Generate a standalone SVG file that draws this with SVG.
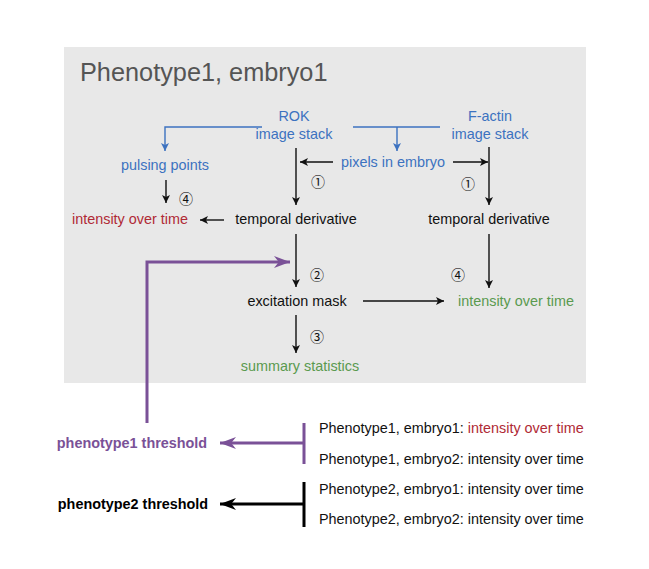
<svg xmlns="http://www.w3.org/2000/svg" width="649" height="569" viewBox="0 0 649 569">
<style>
text{font-family:"Liberation Sans",Arial,sans-serif;font-size:14.4px}
.k{fill:#111}
.b{fill:#3c72c0}
.r{fill:#b02a35}
.g{fill:#5a9a4f}
.c{font-family:"Noto Sans CJK SC","DejaVu Sans",sans-serif;font-size:14px;fill:#111}
.t{font-size:25.3px;fill:#555}
.pb{font-weight:bold;fill:#7a5197}
.kb{font-weight:bold;fill:#000}
.lk{stroke:#111;stroke-width:1.4;fill:none}
.lb{stroke:#3c72c0;stroke-width:1.4;fill:none}
.lp{stroke:#7a5197;stroke-width:3;fill:none}
.lk3{stroke:#000;stroke-width:3;fill:none}
</style>
<defs>
<marker id="ak" viewBox="0 0 10 10" refX="10" refY="5" markerWidth="8" markerHeight="8" markerUnits="userSpaceOnUse" orient="auto"><path d="M0,0 L10,5 L0,10 L2.5,5 z" fill="#111"/></marker>
<marker id="ab" viewBox="0 0 10 10" refX="10" refY="5" markerWidth="8" markerHeight="8" markerUnits="userSpaceOnUse" orient="auto"><path d="M0,0 L10,5 L0,10 L2.5,5 z" fill="#3c72c0"/></marker>
<marker id="ap" viewBox="0 0 10 10" refX="10" refY="5" markerWidth="16" markerHeight="12" markerUnits="userSpaceOnUse" orient="auto" preserveAspectRatio="none"><path d="M0,0 L10,5 L0,10 L3,5 z" fill="#7a5197"/></marker>
<marker id="a3" viewBox="0 0 10 10" refX="10" refY="5" markerWidth="16" markerHeight="12" markerUnits="userSpaceOnUse" orient="auto" preserveAspectRatio="none"><path d="M0,0 L10,5 L0,10 L3,5 z" fill="#000"/></marker>
</defs>
<rect width="649" height="569" fill="#fff"/>
<rect id="panel" x="64" y="47" width="522" height="336" fill="#e8e8e8"/>
<text class="t" x="80" y="81">Phenotype1, embryo1</text>

<g id="connectors">
<path class="lb" d="M262,127 H165 V151" marker-end="url(#ab)"/>
<path class="lb" d="M353,127 H440 M397,127 V151" marker-end="url(#ab)"/>
<path class="lk" d="M333,162 H300" marker-end="url(#ak)"/>
<path class="lk" d="M453,162 H488" marker-end="url(#ak)"/>
<path class="lk" d="M296,148 V205" marker-end="url(#ak)"/>
<path class="lk" d="M489,147 V205" marker-end="url(#ak)"/>
<path class="lk" d="M166,180 V203" marker-end="url(#ak)"/>
<path class="lk" d="M224,220 H200" marker-end="url(#ak)"/>
<path class="lk" d="M296,234 V287" marker-end="url(#ak)"/>
<path class="lk" d="M489,234 V288" marker-end="url(#ak)"/>
<path class="lk" d="M363,301 H444" marker-end="url(#ak)"/>
<path class="lk" d="M296,315 V353" marker-end="url(#ak)"/>
<path class="lp" d="M147,423 V262 H290" marker-end="url(#ap)"/>
<path class="lp" d="M304,423 V464 M304,443 H220" marker-end="url(#ap)"/>
<path class="lk3" d="M304,482 V527 M304,504 H220" marker-end="url(#a3)"/>
</g>

<g id="rok"><text class="b" x="294" y="121" text-anchor="middle">ROK</text><text class="b" x="294" y="139" text-anchor="middle">image stack</text></g>
<g id="factin"><text class="b" x="490" y="121" text-anchor="middle">F-actin</text><text class="b" x="490" y="139" text-anchor="middle">image stack</text></g>
<g id="pixels"><text class="b" x="393" y="167" text-anchor="middle">pixels in embryo</text></g>
<g id="pulsing"><text class="b" x="165" y="170" text-anchor="middle">pulsing points</text></g>
<g id="td1"><text class="k" x="296" y="224" text-anchor="middle">temporal derivative</text></g>
<g id="td2"><text class="k" x="489" y="224" text-anchor="middle">temporal derivative</text></g>
<g id="iot-red"><text class="r" x="130" y="224" text-anchor="middle">intensity over time</text></g>
<g id="mask"><text class="k" x="297" y="306" text-anchor="middle">excitation mask</text></g>
<g id="iot-green"><text class="g" x="516" y="306" text-anchor="middle">intensity over time</text></g>
<g id="summary"><text class="g" x="300" y="371" text-anchor="middle">summary statistics</text></g>

<g id="steps">
<text class="c" x="318" y="187" text-anchor="middle">①</text>
<text class="c" x="468" y="189" text-anchor="middle">①</text>
<text class="c" x="186" y="204" text-anchor="middle">④</text>
<text class="c" x="317" y="280" text-anchor="middle">②</text>
<text class="c" x="458" y="280" text-anchor="middle">④</text>
<text class="c" x="317" y="342" text-anchor="middle">③</text>
</g>

<g id="th1"><text class="pb" x="132" y="448" text-anchor="middle">phenotype1 threshold</text></g>
<g id="th2"><text class="kb" x="133" y="509" text-anchor="middle">phenotype2 threshold</text></g>

<g id="list">
<text class="k" x="319" y="433">Phenotype1, embryo1: <tspan class="r">intensity over time</tspan></text>
<text class="k" x="319" y="464">Phenotype1, embryo2: intensity over time</text>
<text class="k" x="319" y="494">Phenotype2, embryo1: intensity over time</text>
<text class="k" x="319" y="524">Phenotype2, embryo2: intensity over time</text>
</g>
</svg>
